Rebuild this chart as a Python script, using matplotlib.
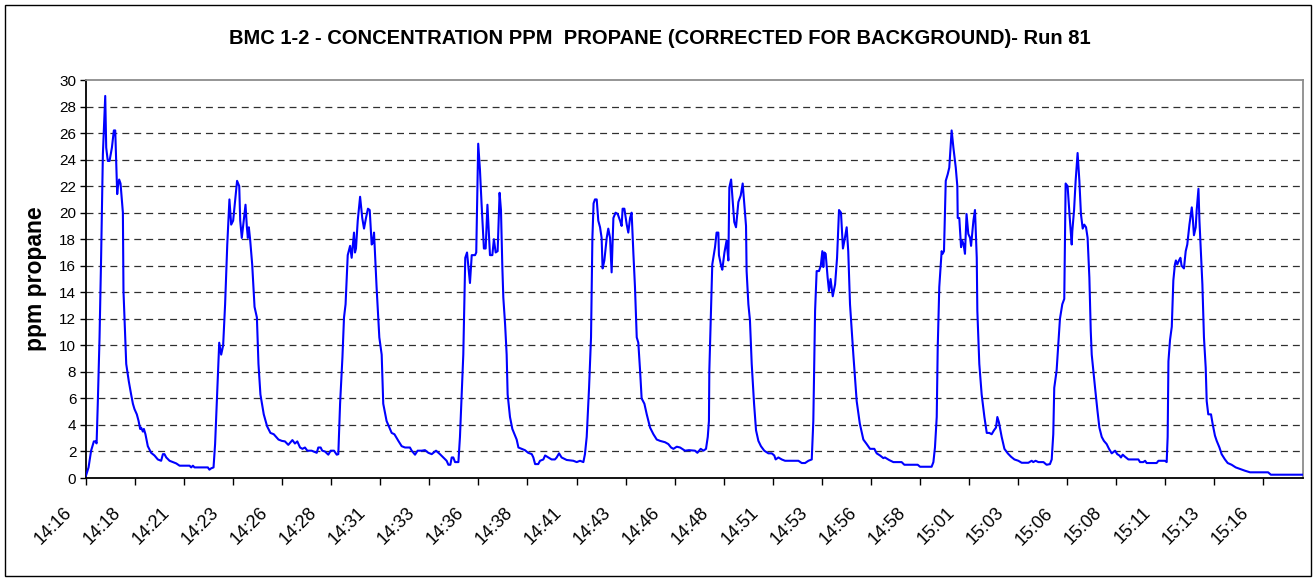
import matplotlib
matplotlib.use("Agg")
import matplotlib.pyplot as plt
import matplotlib.patches as patches
import matplotlib.transforms as mtransforms

plt.rcParams['font.family'] = ['Liberation Sans', 'DejaVu Sans']
plt.rcParams['lines.scale_dashes'] = False

# minutes after 14:16
minutes = [
    0.0, 0.13, 0.26, 0.40, 0.48, 0.54, 0.60, 0.69, 0.77, 0.86, 0.91, 0.98, 1.03, 1.11, 1.20, 1.32, 1.42, 1.49,
    1.54, 1.59, 1.62, 1.69, 1.76, 1.88, 1.91, 2.05, 2.18, 2.30, 2.39, 2.47, 2.59, 2.68, 2.76, 2.81, 2.90, 2.95,
    3.03, 3.15, 3.32, 3.49, 3.66, 3.83, 3.92, 4.00, 4.09, 4.26, 4.43, 4.60, 4.77, 5.28, 5.36, 5.45, 5.53, 6.21,
    6.29, 6.38, 6.50, 6.58, 6.69, 6.79, 6.89, 6.99, 7.09, 7.20, 7.31, 7.40, 7.50, 7.60, 7.70, 7.81, 7.86, 7.94,
    8.04, 8.13, 8.20, 8.25, 8.30, 8.37, 8.47, 8.59, 8.71, 8.79, 8.89, 9.06, 9.23, 9.40, 9.57, 9.69, 9.81, 9.98,
    10.14, 10.31, 10.52, 10.65, 10.77, 10.91, 11.03, 11.16, 11.28, 11.50, 11.76, 11.84, 11.96, 12.04, 12.18,
    12.35, 12.47, 12.64, 12.78, 12.86, 12.95, 13.07, 13.15, 13.23, 13.34, 13.46, 13.54, 13.59, 13.66, 13.71,
    13.76, 13.85, 13.97, 14.08, 14.17, 14.27, 14.37, 14.46, 14.56, 14.61, 14.68, 14.81, 14.95, 15.07, 15.15,
    15.32, 15.49, 15.58, 15.72, 15.92, 16.09, 16.26, 16.51, 16.60, 16.77, 16.90, 17.11, 17.28, 17.45, 17.62,
    17.84, 18.04, 18.21, 18.38, 18.47, 18.57, 18.64, 18.72, 18.81, 18.98, 19.06, 19.23, 19.33, 19.42, 19.49,
    19.57, 19.66, 19.83, 19.89, 19.99, 20.08, 20.16, 20.28, 20.37, 20.46,
    20.59, 20.71, 20.79, 20.88, 20.98, 21.08, 21.15, 21.22, 21.27, 21.36, 21.44, 21.49, 21.61, 21.73, 21.87,
    21.95, 22.04, 22.20, 22.37, 22.54, 22.72, 22.80, 22.89, 23.05, 23.14, 23.31, 23.40, 23.56, 23.73, 23.90,
    23.99, 24.11, 24.24, 24.50, 24.84, 25.01, 25.18, 25.35, 25.43, 25.52, 25.64, 25.74, 25.81, 25.87, 25.94,
    26.03, 26.11, 26.20, 26.28, 26.33, 26.42, 26.54, 26.62, 26.71, 26.79, 26.88, 26.99, 27.10, 27.22, 27.30,
    27.35, 27.44, 27.56, 27.64, 27.73, 27.81, 27.90, 27.98, 28.07, 28.15, 28.24, 28.32, 28.46, 28.58, 28.75,
    28.92, 29.09, 29.26, 29.51, 29.68, 29.82, 29.94, 30.11, 30.28,
    30.53, 30.73, 31.04, 31.16, 31.33, 31.47, 31.60, 31.69, 31.75, 31.77, 31.84, 31.92, 32.06, 32.14, 32.23,
    32.26, 32.37, 32.43, 32.54, 32.65, 32.74, 32.79, 32.88, 32.96, 33.04, 33.13, 33.25, 33.37, 33.47, 33.55,
    33.64, 33.67, 33.76, 33.84, 33.93, 34.05, 34.15, 34.27, 34.40, 34.57, 34.78, 34.95, 35.08, 35.15, 35.29,
    35.46, 35.63, 36.31, 36.48, 36.65, 36.82, 36.99, 37.07, 37.16, 37.24, 37.36, 37.45, 37.53, 37.58, 37.63,
    37.70, 37.80, 37.87, 37.95, 38.06, 38.18, 38.28, 38.38, 38.48, 38.58, 38.68, 38.77, 38.85, 38.94, 39.11,
    39.28, 39.44, 39.62, 39.79, 39.96, 40.18, 40.30, 40.47, 40.64,
    40.72, 40.93, 41.15, 41.57, 41.71, 42.39, 42.51, 43.10, 43.19, 43.27, 43.36, 43.41, 43.49, 43.61, 43.66,
    43.73, 43.82, 43.92, 44.00, 44.12, 44.21, 44.33, 44.41, 44.43, 44.51, 44.60, 44.66, 44.73, 44.80, 44.88,
    44.97, 45.06, 45.11, 45.23, 45.31, 45.40, 45.43, 45.53, 45.65, 45.79, 45.91, 46.04, 46.16, 46.28, 46.38,
    46.45, 46.53, 46.67, 46.81, 46.98, 47.15, 47.32, 47.52, 47.69, 48.03, 48.20, 48.28, 48.40, 48.54, 48.80,
    48.96, 49.13, 49.22, 49.30, 49.35, 49.47, 49.56, 49.64, 49.76, 49.86, 49.93, 50.03, 50.15, 50.24, 50.27,
    50.36, 50.44, 50.54, 50.63, 50.71, 50.80, 50.88, 50.97, 51.05,
    51.14, 51.21, 51.26, 51.34, 51.43, 51.55, 51.65, 51.77, 51.88, 52.02, 52.14, 52.28, 52.45, 52.56, 52.67,
    52.75, 52.84, 52.96, 53.13, 53.64, 53.72, 53.89, 53.98, 54.06, 54.57, 54.66, 54.99, 55.08, 55.13, 55.17,
    55.25, 55.34, 55.42, 55.50, 55.55, 55.62, 55.71, 55.78, 55.84, 55.96, 56.05, 56.13, 56.24, 56.36, 56.41,
    56.47, 56.56, 56.61, 56.70, 56.75, 56.83, 56.90, 56.98, 57.07, 57.12, 57.20, 57.34, 57.42, 57.54, 57.63,
    57.77, 57.88, 58.05, 58.19, 58.39, 58.60, 58.82, 59.07, 59.33, 60.25, 60.39, 62.0,
]

ppm = [
    0.18, 0.8, 2.06, 2.76, 2.76, 2.61, 5.58, 10.6, 16.6, 24.4, 26.2, 28.8, 24.9, 23.9, 23.9, 24.9, 26.2, 26.2,
    23.7, 21.4, 21.9, 22.5, 22.2, 20.0, 14.1, 8.6, 7.3, 6.3, 5.6, 5.2, 4.8, 4.3, 3.7, 3.8, 3.5, 3.7,
    3.3, 2.4, 1.9, 1.7, 1.4, 1.3, 1.8, 1.8, 1.55, 1.3, 1.2, 1.1, 0.93, 0.93, 0.8, 0.93, 0.8, 0.8,
    0.63, 0.73, 0.8, 2.56, 6.6, 10.2, 9.3, 10.0, 13.1, 17.6, 21.0, 19.1, 19.4, 20.9, 22.4, 22.0, 19.4, 18.1,
    19.4, 20.6, 18.9, 18.1, 18.9, 17.9, 16.1, 12.9, 12.1, 8.6, 6.3, 4.8, 3.9, 3.4, 3.3, 3.1, 2.9, 2.8,
    2.76, 2.5, 2.86, 2.6, 2.76, 2.3, 2.2, 2.3, 2.06, 2.06, 1.9, 2.3, 2.3, 2.06, 2.0,
    1.76, 2.06, 2.06, 1.76, 1.8, 5.6, 9.1, 12.1, 13.1, 16.8, 17.5, 16.6, 17.4, 18.5, 17.0,
    17.3, 19.4, 21.2, 19.6, 18.8, 19.6, 20.3, 20.2, 17.6, 17.7, 18.5, 14.4, 10.6, 9.3, 5.6,
    4.3, 3.7, 3.4, 3.3, 2.8, 2.4, 2.3, 2.3, 2.06, 1.76, 2.06, 2.06, 2.1, 1.9, 1.8,
    2.06, 1.8, 1.55, 1.3, 1.0, 1.0, 1.55, 1.55, 1.2, 1.2, 3.1, 9.3, 16.6, 17.0, 15.9,
    14.7, 16.8, 16.8, 17.0, 25.2, 23.2, 20.7, 17.3, 17.3, 20.6,
    16.8, 16.8, 18.0, 17.0, 17.1, 21.5, 20.2, 15.9, 13.6, 11.6, 9.3, 6.3, 4.6, 3.7, 3.2,
    2.9, 2.3, 2.2, 2.1, 1.9, 1.8, 1.55, 1.05, 1.05, 1.3, 1.4, 1.7, 1.55, 1.4, 1.4,
    1.55, 1.86, 1.55, 1.36, 1.3, 1.2, 1.3, 1.2, 1.8, 3.1, 6.8, 10.6, 18.1, 20.7, 21.0,
    21.0, 19.4, 18.9, 18.1, 15.8, 16.4, 18.1, 18.8, 18.1, 15.5, 19.6, 20.0, 19.9, 19.4, 19.0,
    20.3, 20.3, 19.1, 18.5, 19.6, 20.0, 16.9, 14.4, 10.6, 10.2, 8.1, 6.0, 5.6, 4.8, 3.8,
    3.3, 2.9, 2.8, 2.7, 2.56, 2.3, 2.2, 2.36, 2.3,
    2.06, 2.1, 2.06, 1.9, 2.2, 2.06, 2.2, 3.1, 4.3, 8.1, 11.9, 16.1, 17.4, 18.5, 18.5,
    16.8, 16.0, 15.7, 17.0, 17.9, 16.4, 21.9, 22.5, 20.9, 19.3, 18.9, 20.8, 21.3, 22.2, 20.7,
    19.0, 15.6, 13.1, 11.9, 8.6, 5.6, 3.6, 2.8, 2.4, 2.06, 1.86, 1.86, 1.7, 1.4, 1.55,
    1.4, 1.3, 1.3, 1.13, 1.13, 1.3, 1.4, 4.3, 12.6, 15.6, 15.6, 16.0, 17.1, 15.9, 17.0,
    16.9, 15.1, 14.1, 15.0, 13.7, 14.6, 16.6, 20.2, 20.0, 17.3, 18.1, 18.9, 17.1, 13.1, 9.3,
    5.8, 4.1, 2.9, 2.56, 2.2, 2.2, 1.86, 1.7, 1.5,
    1.55, 1.36, 1.2, 1.2, 1.0, 1.0, 0.85, 0.85, 1.2, 2.3, 4.6, 9.8, 14.4, 17.1, 16.9,
    17.1, 22.4, 22.9, 23.4, 26.2, 24.9, 23.4, 22.0, 19.6, 19.6, 17.4, 17.9, 17.6, 16.9, 19.9,
    18.4, 18.1, 17.5, 19.4, 20.2, 16.6, 12.6, 8.6, 6.3, 4.6, 3.4, 3.4, 3.3, 3.6, 3.8,
    4.6, 4.2, 3.1, 2.2, 1.86, 1.6, 1.4, 1.3, 1.15, 1.15, 1.3, 1.2, 1.3, 1.2, 1.2,
    1.0, 1.05, 1.4, 3.3, 6.8, 8.1, 10.1, 12.0, 13.1, 13.5, 22.2, 22.0, 19.4, 17.6, 18.6,
    20.2, 22.4, 24.5, 22.4, 19.9, 18.8, 19.1, 18.9, 18.1,
    15.1, 11.1, 9.3, 8.1, 6.8, 5.1, 3.8, 3.1, 2.8, 2.56, 2.2, 1.86, 2.06, 1.8, 1.7,
    1.55, 1.76, 1.6, 1.4, 1.4, 1.2, 1.2, 1.3, 1.13, 1.13, 1.3, 1.3, 1.2, 3.1, 8.8,
    10.4, 11.4, 14.9, 16.1, 16.4, 16.1, 16.4, 16.6, 16.0, 15.8, 17.1, 17.6, 19.1, 20.4, 19.6,
    18.3, 18.9, 20.2, 21.8, 19.4, 16.9, 14.6, 10.6, 8.3, 5.8, 4.8, 4.8, 4.1, 3.2, 2.8,
    2.3, 1.8, 1.4, 1.13, 1.0, 0.8, 0.68, 0.55, 0.43, 0.43, 0.25, 0.25,
]

tick_labels = ['14:16', '14:18', '14:21', '14:23', '14:26', '14:28', '14:31', '14:33', '14:36',
               '14:38', '14:41', '14:43', '14:46', '14:48', '14:51', '14:53', '14:56', '14:58',
               '15:01', '15:03', '15:06', '15:08', '15:11', '15:13', '15:16']

fig = plt.figure(figsize=(13.15, 5.79), dpi=100)
ax = fig.add_axes([0.0654, 0.1744, 0.9255, 0.6874])

for y in range(2, 30, 2):
    ax.axhline(y, color='#303030', lw=0.9, dashes=(5, 3.6), zorder=1)

ax.plot(minutes, ppm, color='#0000ff', lw=1.5, zorder=3)

ax.set_xlim(0, 62.03)
ax.set_ylim(0, 30)
ax.set_yticks(range(0, 31, 2))
ax.tick_params(axis='y', labelsize=11, length=4, width=1, pad=3)
ax.set_xticks([i * 2.5 for i in range(len(tick_labels))])
ax.set_xticklabels(tick_labels, rotation=45, ha='right', va='top', fontsize=13)
ax.tick_params(axis='x', length=5, width=1, pad=14)
offset = mtransforms.ScaledTranslation(-11 / 100, 0, fig.dpi_scale_trans)
for lab in ax.get_xticklabels():
    lab.set_transform(lab.get_transform() + offset)

for side in ['left', 'bottom']:
    ax.spines[side].set_color('black')
    ax.spines[side].set_linewidth(1.3)
for side in ['top', 'right']:
    ax.spines[side].set_color('#8c8c8c')
    ax.spines[side].set_linewidth(1.3)

ax.set_ylabel('ppm propane', fontsize=16.5, fontweight='bold', labelpad=9)
fig.text(0.502, 0.934, 'BMC 1-2 - CONCENTRATION PPM  PROPANE (CORRECTED FOR BACKGROUND)- Run 81',
         ha='center', va='center', fontsize=14.5, fontweight='bold')

fig.patches.append(patches.Rectangle((5 / 1315, 3 / 579), 1306 / 1315, 571 / 579,
                                     transform=fig.transFigure, fill=False, ec='black', lw=1))

fig.savefig('out.png', dpi=100)
